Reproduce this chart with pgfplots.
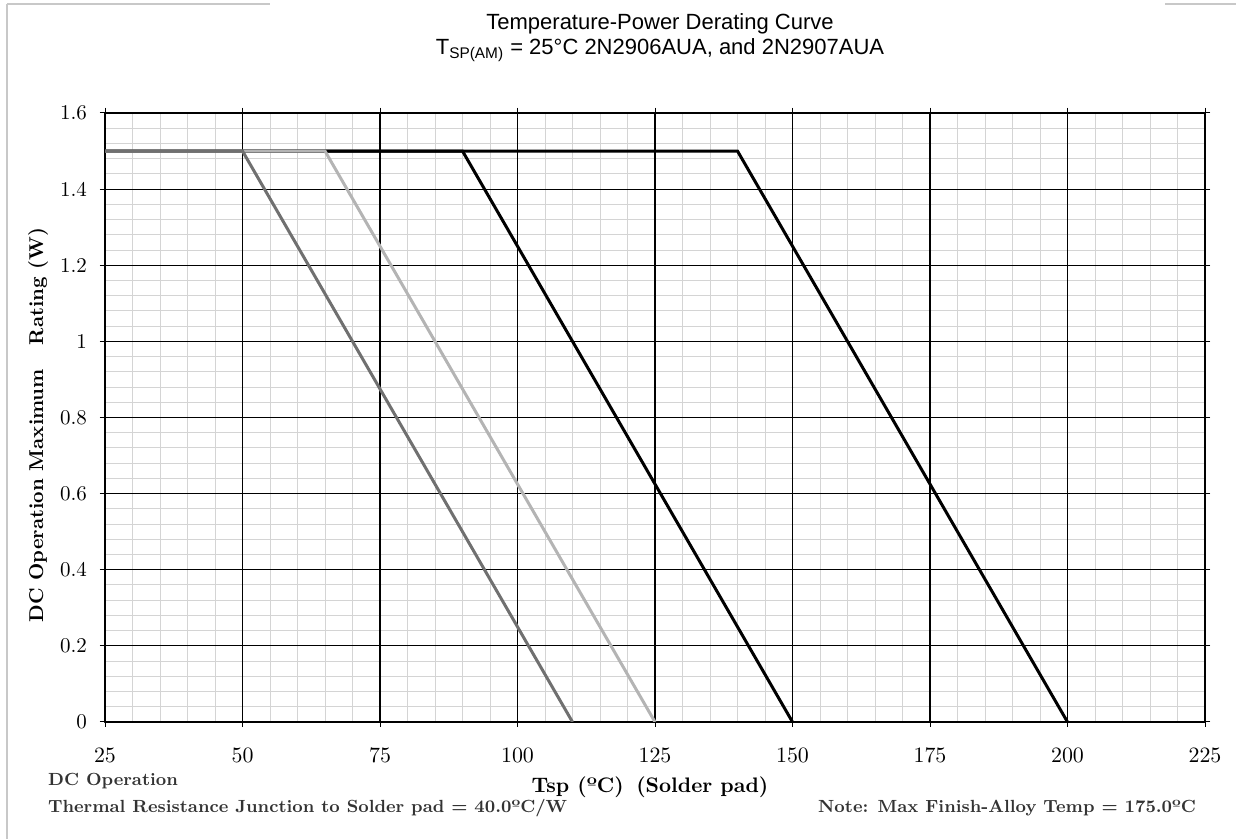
\documentclass[border=0pt]{standalone}
\usepackage{fontspec}
\usepackage{pgfplots}
\pgfplotsset{compat=1.18}
\newfontfamily\arialfont{Liberation Sans}
\definecolor{sdark}{HTML}{707070}
\definecolor{slight}{HTML}{B4B4B4}
\definecolor{minorg}{HTML}{D4D4D4}
\definecolor{framec}{HTML}{C8C8C8}
\begin{document}
\begin{tikzpicture}
\begin{scope}[x=0.5pt,y=0.5pt]
\path[use as bounding box] (0,0) rectangle (1236,839);
% page frame fragments
\draw[framec,line width=1.2pt] (7,835) -- (270,835);
\draw[framec,line width=1.2pt] (7,835) -- (7,0);
\draw[framec,line width=1.2pt] (1165,835) -- (1236,835);
\end{scope}
\begin{axis}[
  at={(52.5pt,58.5pt)}, anchor=south west,
  scale only axis, width=550pt, height=304.5pt,
  xmin=25, xmax=225, ymin=0, ymax=1.6,
  xtick={25,50,...,225},
  ytick={0,0.2,...,1.6},
  yticklabels={0,0.2,0.4,0.6,0.8,1,1.2,1.4,1.6},
  minor x tick num=4, minor y tick num=4,
  grid=minor,
  minor grid style={minorg,line width=0.5pt},
  extra x ticks={25,50,...,225},
  extra y ticks={0,0.2,...,1.6},
  extra x tick labels={},
  extra y tick labels={},
  extra tick style={grid=major, major grid style={black,line width=0.6pt}},
  axis line style={black!85,line width=1pt},
  tick align=outside, major tick length=2.5pt, minor tick length=0pt,
  tick style={black,line width=0.5pt},
  ticklabel style={font=\fontsize{10.5}{12}\selectfont},
  xticklabel style={yshift=-7pt},
  yticklabel style={xshift=-3pt},
]
\addplot[black,line width=1.5pt] coordinates {(25,1.5) (140,1.5) (200,0)};
\addplot[black,line width=1.5pt] coordinates {(25,1.5) (90,1.5) (150,0)};
\addplot[slight,line width=1.5pt] coordinates {(25,1.5) (65,1.5) (125,0)};
\addplot[sdark,line width=1.5pt] coordinates {(25,1.5) (50,1.5) (110,0)};
\end{axis}
\begin{scope}[x=0.5pt,y=0.5pt]
% titles
\node[font=\arialfont\fontsize{11}{13}\selectfont] at (660,815) {Temperature-Power Derating Curve};
\node[font=\arialfont\fontsize{11}{13}\selectfont] at (660,789) {T\textsubscript{SP(AM)} = 25°C 2N2906AUA, and 2N2907AUA};
% axis labels
\node[rotate=90,font=\bfseries\fontsize{10}{12}\selectfont] at (38,414) {DC Operation Maximum\hspace{1.2em}Rating (W)};
\node[font=\bfseries\fontsize{10.5}{12}\selectfont] at (650,52) {Tsp (ºC)\hspace{0.6em}(Solder pad)};
% footnotes
\node[anchor=west,font=\bfseries\fontsize{8.8}{10}\selectfont,black!80] at (41,58) {DC Operation};
\node[anchor=west,font=\bfseries\fontsize{8.8}{10}\selectfont,black!80] at (41,31) {Thermal Resistance Junction to Solder pad = 40.0ºC/W};
\node[anchor=east,font=\bfseries\fontsize{8.8}{10}\selectfont,black!80] at (1203,31) {Note: Max Finish-Alloy Temp = 175.0ºC};
\end{scope}
\end{tikzpicture}
\end{document}
